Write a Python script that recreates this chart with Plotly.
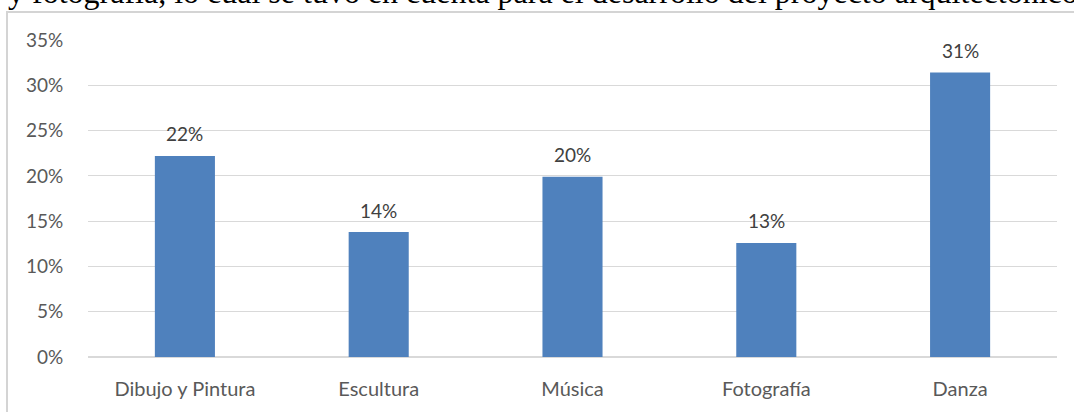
import plotly.graph_objects as go

categories = ["Dibujo y Pintura", "Escultura", "Música", "Fotografía", "Danza"]
values = [0.222, 0.138, 0.199, 0.126, 0.314]
labels = ["22%", "14%", "20%", "13%", "31%"]
y_ticks = [0, 0.05, 0.10, 0.15, 0.20, 0.25, 0.30, 0.35]
y_ticktext = ["0%", "5%", "10%", "15%", "20%", "25%", "30%", "35%"]
top_text = "y fotografía, lo cual se tuvo en cuenta para el desarrollo del proyecto arquitectónico"

W, H = 1074, 412
ML, MR, MT, MB = 88, 17, 40, 55
PW, PH = W - ML - MR, H - MT - MB

def px_x(p):
    return (p - ML) / PW

def px_y(p):
    return 1 - (p - MT) / PH

FONT = "Lato, 'Open Sans', sans-serif"

fig = go.Figure()
fig.add_trace(go.Bar(
    x=categories, y=values,
    marker=dict(color="#4f81bd", line=dict(width=0)),
    hoverinfo="skip",
))

for c, v, t in zip(categories, values, labels):
    fig.add_annotation(x=c, y=v, text=t, showarrow=False, xref="x", yref="y",
                       yanchor="middle", yshift=22,
                       font=dict(family=FONT, size=19, color="#404040"))

# cropped text line from the page above the chart
fig.add_annotation(x=px_x(6), y=px_y(-8), xref="paper", yref="paper",
                   xanchor="left", yanchor="middle", showarrow=False,
                   text=top_text,
                   font=dict(family="'Liberation Serif', 'Times New Roman', serif", size=32, color="#000000"))

# chart area border (top and left edges visible)
border = dict(color="#d4d4d4", width=2)
fig.add_shape(type="line", xref="paper", yref="paper",
              x0=px_x(6), x1=px_x(1080), y0=px_y(12), y1=px_y(12), line=border)
fig.add_shape(type="line", xref="paper", yref="paper",
              x0=px_x(7), x1=px_x(7), y0=px_y(12), y1=px_y(420), line=border)

fig.update_layout(
    width=W, height=H,
    margin=dict(l=ML, r=MR, t=MT, b=MB),
    paper_bgcolor="white", plot_bgcolor="white",
    showlegend=False,
    bargap=0.69,
    font=dict(family=FONT, size=19, color="#595959"),
    xaxis=dict(showgrid=False, showline=False, zeroline=False,
               ticks="outside", ticklen=14, tickcolor="rgba(0,0,0,0)",
               tickfont=dict(family=FONT, size=20, color="#595959")),
    yaxis=dict(range=[0, 0.35], tickvals=y_ticks, ticktext=y_ticktext,
               showgrid=True, gridcolor="#d9d9d9", gridwidth=1,
               zeroline=True, zerolinecolor="#d9d9d9", zerolinewidth=1.5,
               showline=False,
               ticks="outside", ticklen=20, tickcolor="rgba(0,0,0,0)",
               tickfont=dict(family=FONT, size=19, color="#595959")),
)

fig.write_html("out.html", config={"displayModeBar": False},
               post_script="document.body.style.margin='0';document.body.style.overflow='hidden';")
